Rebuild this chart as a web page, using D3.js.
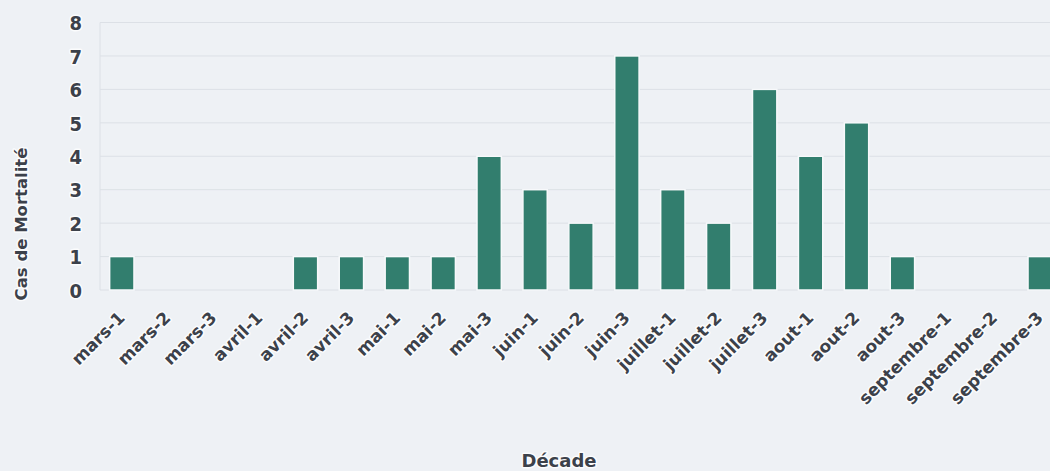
<!DOCTYPE html>
<html>
<head>
<meta charset="utf-8">
<script src="https://cdn.jsdelivr.net/npm/d3@7/dist/d3.min.js"></script>
<style>
  html, body { margin: 0; padding: 0; background: #eef1f5; overflow: hidden; }
  svg { display: block; }
  text { font-family: "DejaVu Sans", Verdana, sans-serif; font-weight: bold; fill: #3c414a; }
  .halo { paint-order: stroke; stroke: #fbfcfd; stroke-width: 3px; stroke-linejoin: round; }
  .narrow { font-family: "DejaVu Sans Condensed", "DejaVu Sans", sans-serif; font-stretch: condensed; }
</style>
</head>
<body>
<svg id="chart" width="1050" height="471"></svg>
<script>
// Mortality cases per ten-day period (décade), March to September
const decades = [
  "mars-1", "mars-2", "mars-3",
  "avril-1", "avril-2", "avril-3",
  "mai-1", "mai-2", "mai-3",
  "juin-1", "juin-2", "juin-3",
  "juillet-1", "juillet-2", "juillet-3",
  "aout-1", "aout-2", "aout-3",
  "septembre-1", "septembre-2", "septembre-3"
];
const cases = [1, 0, 0, 0, 1, 1, 1, 1, 4, 3, 2, 7, 3, 2, 6, 4, 5, 1, 0, 0, 1];
const yTicks = [0, 1, 2, 3, 4, 5, 6, 7, 8];
const yTitle = "Cas de Mortalité";
const xTitle = "Décade";

const svg = d3.select("#chart");

// plot area (extends slightly past the right edge of the page)
const plotLeft = 100, plotRight = 1062, plotTop = 22.5, plotBottom = 290;

const x = d3.scaleBand()
  .domain(decades)
  .range([plotLeft, plotRight])
  .paddingInner(0.47)
  .paddingOuter(0.21);

const y = d3.scaleLinear()
  .domain([0, 8])
  .range([plotBottom, plotTop]);

// horizontal grid lines
svg.append("g")
  .selectAll("line")
  .data(yTicks)
  .join("line")
  .attr("x1", plotLeft)
  .attr("x2", 1050)
  .attr("y1", d => y(d))
  .attr("y2", d => y(d))
  .attr("stroke", "#dce0e6")
  .attr("stroke-width", 1);

// faint vertical axis line
svg.append("line")
  .attr("x1", plotLeft).attr("x2", plotLeft)
  .attr("y1", plotTop).attr("y2", plotBottom)
  .attr("stroke", "#dce0e6");

// y axis labels
const yAxis = d3.axisLeft(y).tickValues(yTicks).tickSize(0).tickPadding(0).tickFormat(d3.format("d"));
const gy = svg.append("g")
  .attr("transform", `translate(${plotLeft - 18},0)`)
  .call(yAxis);
gy.select(".domain").remove();
gy.selectAll("text")
  .attr("class", "halo narrow")
  .style("font-size", "20px")
  .attr("dy", "0.36em");

// bars
svg.append("g")
  .selectAll("rect")
  .data(decades.map((d, i) => ({ d, v: cases[i] })))
  .join("rect")
  .attr("x", o => x(o.d))
  .attr("width", x.bandwidth())
  .attr("y", o => y(o.v))
  .attr("height", o => y(0) - y(o.v))
  .attr("fill", "#327e6e")
  .attr("stroke", "#f7f9fb")
  .attr("stroke-width", 1.5);

// x axis labels, rotated
const xAxis = d3.axisBottom(x).tickSize(0).tickPadding(0);
const gx = svg.append("g")
  .attr("transform", `translate(0,${plotBottom + 29})`)
  .call(xAxis);
gx.select(".domain").remove();
gx.selectAll("text")
  .attr("class", "halo")
  .style("font-size", "17px")
  .attr("text-anchor", "end")
  .attr("y", 0)
  .attr("dy", 0)
  .attr("transform", "translate(4,0) rotate(-45)");

// axis titles
svg.append("text")
  .attr("class", "halo")
  .attr("transform", "translate(27,224) rotate(-90)")
  .attr("text-anchor", "middle")
  .style("font-size", "16.5px")
  .text(yTitle);

svg.append("text")
  .attr("class", "halo")
  .attr("x", 559)
  .attr("y", 467)
  .attr("text-anchor", "middle")
  .style("font-size", "18px")
  .text(xTitle);
</script>
</body>
</html>
